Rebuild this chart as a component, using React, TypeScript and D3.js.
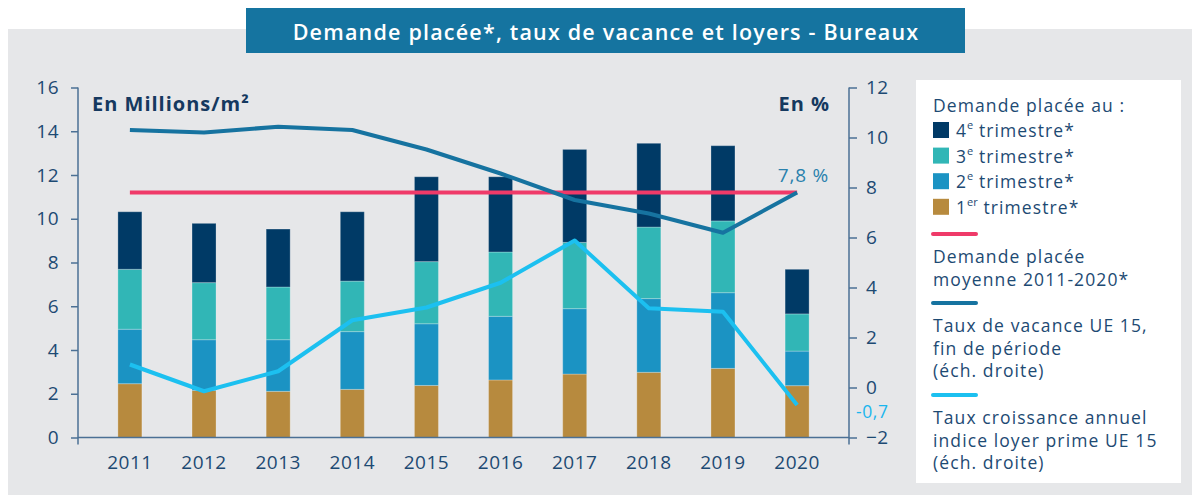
import { useEffect, useRef } from 'react';
import * as d3 from 'd3';

const years = ['2011', '2012', '2013', '2014', '2015', '2016', '2017', '2018', '2019', '2020'];
// Demande placée par trimestre (millions m², cumul)
const q1 = [2.46, 2.15, 2.11, 2.2, 2.38, 2.63, 2.9, 2.98, 3.16, 2.37];
const q2 = [2.49, 2.32, 2.36, 2.64, 2.82, 2.91, 2.99, 3.37, 3.46, 1.58];
const q3 = [2.74, 2.61, 2.41, 2.31, 2.84, 2.94, 3.03, 3.27, 3.28, 1.7];
const q4 = [2.63, 2.71, 2.65, 3.17, 3.88, 3.44, 4.25, 3.83, 3.44, 2.04];
const avgDemand = 11.2;
const vacancy = [10.3, 10.2, 10.43, 10.3, 9.52, 8.56, 7.5, 6.96, 6.19, 7.8];
const rentGrowth = [0.92, -0.15, 0.65, 2.69, 3.2, 4.19, 5.88, 3.17, 3.03, -0.7];
const leftTicks = [0, 2, 4, 6, 8, 10, 12, 14, 16];
const rightTicks = [-2, 0, 2, 4, 6, 8, 10, 12];

const quarterColors = ['#b78a3e', '#1b93c3', '#31b6b6', '#003a66'];
const RED = '#ef3a69';
const VAC = '#1673a0';
const RENT = '#1cc0f0';
const TXT = '#1d4a73';
const AXIS = '#4b7095';
const FONT = "'Open Sans', sans-serif";

export default function App() {
  const svgRef = useRef<SVGSVGElement>(null);

  useEffect(() => {
    if (!svgRef.current) return;
    const svg = d3.select(svgRef.current);
    svg.selectAll('*').remove();

    const width = 1192;
    const height = 495;
    const plot = { left: 78, right: 849, top: 87.5, bottom: 437.5 };

    // background panel
    svg.append('rect').attr('x', 8).attr('y', 29).attr('width', width - 8).attr('height', height - 29).attr('fill', '#e6e7e9');

    // title
    svg.append('rect').attr('x', 246).attr('y', 8).attr('width', 719).attr('height', 45).attr('fill', '#1574a0');
    svg.append('text')
      .attr('x', 606).attr('y', 31)
      .attr('text-anchor', 'middle').attr('dominant-baseline', 'central')
      .attr('fill', '#fff').attr('font-family', FONT).attr('font-size', 21.5).attr('font-weight', 600)
      .attr('letter-spacing', 1.2)
      .text('Demande placée*, taux de vacance et loyers - Bureaux');

    const x = d3.scalePoint<string>().domain(years).range([plot.left, plot.right]).padding(0.7);
    const yL = d3.scaleLinear().domain([0, 16]).range([plot.bottom, plot.top]);
    const yR = d3.scaleLinear().domain([-2, 12]).range([plot.bottom, plot.top]);
    const barW = 24;

    // stacked bars
    const rows = years.map((yr, i) => ({ year: yr, q1: q1[i], q2: q2[i], q3: q3[i], q4: q4[i] }));
    const stack = d3.stack<any>().keys(['q1', 'q2', 'q3', 'q4'])(rows);
    stack.forEach((layer, li) => {
      svg.append('g')
        .selectAll('rect')
        .data(layer)
        .enter()
        .append('rect')
        .attr('x', (d: any) => x(d.data.year)! - barW / 2)
        .attr('width', barW)
        .attr('y', (d) => yL(d[1]))
        .attr('height', (d) => yL(d[0]) - yL(d[1]))
        .attr('fill', quarterColors[li])
        .attr('stroke', 'rgba(255,255,255,0.25)')
        .attr('stroke-width', 1);
    });

    // axes
    const axisL = svg.append('g')
      .attr('transform', `translate(${plot.left},0)`)
      .call(d3.axisLeft(yL).tickValues(leftTicks).tickSize(7).tickSizeOuter(0).tickPadding(12));
    const axisR = svg.append('g')
      .attr('transform', `translate(${plot.right},0)`)
      .call(d3.axisRight(yR).tickValues(rightTicks).tickSize(8).tickSizeOuter(0).tickPadding(9));
    [axisL, axisR].forEach((a) => {
      a.select('.domain').remove();
      a.selectAll('line').attr('stroke', AXIS).attr('stroke-width', 1.5);
      a.selectAll('text').attr('fill', TXT).attr('font-family', FONT).attr('font-size', 19).attr('letter-spacing', 0.5);
    });
    [plot.left, plot.right].forEach((ax) => {
      svg.append('line')
        .attr('x1', ax).attr('x2', ax).attr('y1', plot.top).attr('y2', plot.bottom + 7)
        .attr('stroke', AXIS).attr('stroke-width', 1.5);
    });
    svg.append('line')
      .attr('x1', plot.left).attr('x2', plot.right).attr('y1', plot.bottom).attr('y2', plot.bottom)
      .attr('stroke', AXIS).attr('stroke-width', 1.5);

    // year labels
    svg.append('g')
      .selectAll('text')
      .data(years)
      .enter()
      .append('text')
      .attr('x', (d) => x(d)!)
      .attr('y', 462)
      .attr('text-anchor', 'middle').attr('dominant-baseline', 'central')
      .attr('fill', TXT).attr('font-family', FONT).attr('font-size', 19).attr('letter-spacing', 0.5)
      .text((d) => d);

    // unit labels
    svg.append('text').attr('x', 92).attr('y', 103).attr('dominant-baseline', 'central')
      .attr('fill', '#15395f').attr('font-family', FONT).attr('font-size', 20).attr('font-weight', 700)
      .attr('letter-spacing', 1)
      .text('En Millions/m²');
    svg.append('text').attr('x', 830).attr('y', 103).attr('dominant-baseline', 'central').attr('text-anchor', 'end')
      .attr('fill', '#15395f').attr('font-family', FONT).attr('font-size', 20).attr('font-weight', 700)
      .attr('letter-spacing', 1)
      .text('En %');

    // average demand line
    svg.append('line')
      .attr('x1', x(years[0])!).attr('x2', x(years[years.length - 1])!)
      .attr('y1', yL(avgDemand)).attr('y2', yL(avgDemand))
      .attr('stroke', RED).attr('stroke-width', 4);

    const lineR = (vals: number[]) =>
      d3.line<number>().x((_, i) => x(years[i])!).y((d) => yR(d))(vals);

    svg.append('path').attr('d', lineR(vacancy)!).attr('fill', 'none')
      .attr('stroke', VAC).attr('stroke-width', 4).attr('stroke-linejoin', 'round');
    svg.append('path').attr('d', lineR(rentGrowth)!).attr('fill', 'none')
      .attr('stroke', RENT).attr('stroke-width', 4).attr('stroke-linejoin', 'round');

    // end labels
    const last = years[years.length - 1];
    svg.append('text').attr('x', x(last)! + 32).attr('y', yR(vacancy[vacancy.length - 1]) - 18)
      .attr('text-anchor', 'end').attr('dominant-baseline', 'central')
      .attr('fill', '#2a81ad').attr('font-family', FONT).attr('font-size', 19).attr('letter-spacing', 0.8)
      .text('7,8 %');
    svg.append('text').attr('x', 856).attr('y', yR(rentGrowth[rentGrowth.length - 1]) + 6)
      .attr('dominant-baseline', 'central')
      .attr('fill', '#1ab6ee').attr('font-family', FONT).attr('font-size', 17.5).attr('letter-spacing', 0.6)
      .text('-0,7');

    // legend
    const lg = svg.append('g');
    lg.append('rect').attr('x', 916).attr('y', 80).attr('width', 265).attr('height', 403).attr('fill', '#fff');
    const lx = 933;
    const addText = (y: number, parts: Array<[string, boolean]>, tx = lx) => {
      const t = lg.append('text').attr('x', tx).attr('y', y).attr('dominant-baseline', 'central')
        .attr('fill', TXT).attr('font-family', FONT).attr('font-size', 17.5).attr('letter-spacing', 1.1);
      parts.forEach(([s, sup]) => {
        const sp = t.append('tspan').text(s);
        if (sup) sp.attr('font-size', 11).attr('dy', -6).attr('letter-spacing', 0);
        else if (t.selectAll('tspan').size() > 1) sp.attr('dy', 6);
      });
    };
    addText(105, [['Demande placée au :', false]]);
    const quarterRows: Array<[string, string, number]> = [
      ['4', 'e', 3], ['3', 'e', 2], ['2', 'e', 1], ['1', 'er', 0],
    ];
    quarterRows.forEach(([n, sup, ci], i) => {
      const cy = 130 + i * 25.6;
      lg.append('rect').attr('x', lx).attr('y', cy - 8).attr('width', 16).attr('height', 16).attr('fill', quarterColors[ci]);
      addText(cy, [[n, false], [sup, true], [' trimestre*', false]], 956);
    });
    const lineItems: Array<[string, number, string[]]> = [
      [RED, 234, ['Demande placée', 'moyenne 2011-2020*']],
      [VAC, 303, ['Taux de vacance UE 15,', 'fin de période', '(éch. droite)']],
      [RENT, 395, ['Taux croissance annuel', 'indice loyer prime UE 15', '(éch. droite)']],
    ];
    lineItems.forEach(([c, ly, lines]) => {
      lg.append('line').attr('x1', lx).attr('x2', 976).attr('y1', ly).attr('y2', ly)
        .attr('stroke', c).attr('stroke-width', 4).attr('stroke-linecap', 'round');
      lines.forEach((s, j) => addText(ly + 22 + j * 22.5, [[s, false]]));
    });
  }, []);

  return <svg ref={svgRef} width={1192} height={495} style={{ position: 'absolute', left: 0, top: 0, display: 'block' }} />;
}
